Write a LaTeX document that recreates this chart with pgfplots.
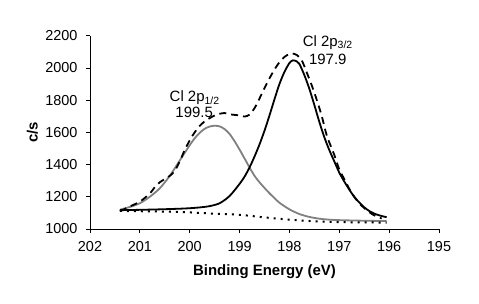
\documentclass[border=0pt]{standalone}
\usepackage{pgfplots}
\pgfplotsset{compat=1.18}
\usepackage{fontspec}
\setmainfont{Liberation Sans}
\definecolor{fitgray}{RGB}{128,128,128}
\begin{document}
\begin{tikzpicture}
\path[use as bounding box] (-90bp,-75bp) rectangle (389bp,229bp);
\begin{axis}[
  at={(0,0)}, anchor=south west,
  scale only axis, width=349bp, height=193.3bp,
  xmin=195, xmax=202, x dir=reverse,
  ymin=1000, ymax=2200,
  xtick={195,196,...,202}, ytick={1000,1200,...,2200},
  axis x line*=bottom, axis y line*=left,
  axis line style={-, black, line width=0.8bp},
  tick align=outside, major tick length=4bp,
  tick style={black, line width=0.8bp},
  /pgf/number format/assume math mode=true,
  /pgf/number format/1000 sep={},
  tick label style={font=\fontsize{14.5}{16}\selectfont},
  yticklabel style={xshift=-5bp},
  xticklabel style={yshift=-5bp},
  xlabel={Binding Energy (eV)}, ylabel={c/s},
  every axis x label/.style={at={(axis description cs:0.5,-0.221)}, anchor=center, font=\fontsize{15}{17}\selectfont\bfseries},
  every axis y label/.style={at={(axis description cs:-0.165,0.5)}, anchor=center, rotate=90, font=\fontsize{15}{17}\selectfont\bfseries},
  clip=false,
]
% Cl 2p1/2 component (gray)
\addplot[fitgray, line width=1.8bp, smooth] coordinates {
(201.40,1120) (201.20,1137) (201.00,1160) (200.80,1200) (200.60,1253)
(200.40,1330) (200.20,1425) (200.00,1520) (199.90,1563) (199.80,1597)
(199.70,1622) (199.60,1636) (199.50,1641) (199.40,1637) (199.30,1620)
(199.20,1590) (199.10,1545) (199.00,1493) (198.90,1438) (198.80,1382)
(198.70,1330) (198.60,1290) (198.50,1255) (198.40,1222) (198.30,1192)
(198.20,1163) (198.00,1122) (197.80,1093) (197.60,1075) (197.40,1064)
(197.20,1058) (197.00,1055) (196.60,1052) (196.05,1049)
};
% Cl 2p3/2 component (black)
\addplot[black, line width=1.8bp, smooth] coordinates {
(201.40,1117) (201.00,1119) (200.60,1122) (200.20,1126) (200.00,1129)
(199.80,1134) (199.60,1142) (199.40,1160) (199.20,1205) (199.00,1280)
(198.90,1325) (198.80,1382) (198.70,1450) (198.60,1525) (198.50,1610)
(198.40,1705) (198.30,1805) (198.20,1900) (198.10,1975) (198.00,2030)
(197.93,2047) (197.85,2040) (197.80,2025) (197.70,1955) (197.60,1870)
(197.50,1770) (197.40,1665) (197.30,1570) (197.20,1490) (197.10,1420)
(197.00,1350) (196.90,1295) (196.80,1245) (196.70,1200) (196.60,1165)
(196.50,1135) (196.40,1112) (196.30,1096) (196.20,1085) (196.05,1073)
};
% background (dotted)
\addplot[black, line width=2bp, dash pattern=on 2bp off 5bp, smooth] coordinates {
(201.40,1112) (200.50,1108) (200.00,1103) (199.50,1095) (199.00,1088)
(198.50,1072) (198.00,1058) (197.50,1048) (197.00,1043) (196.50,1041) (196.05,1040)
};
% envelope (dashed)
\addplot[black, line width=1.8bp, dash pattern=on 7bp off 5bp, smooth] coordinates {
(201.40,1110) (201.20,1140) (201.00,1170) (200.80,1220) (200.70,1260)
(200.60,1290) (200.50,1310) (200.40,1330) (200.30,1360) (200.20,1420)
(200.10,1490) (200.00,1550) (199.90,1600) (199.80,1640) (199.70,1668)
(199.60,1688) (199.50,1705) (199.40,1715) (199.30,1720) (199.20,1712)
(199.00,1705) (198.90,1698) (198.80,1710) (198.70,1750) (198.60,1810)
(198.50,1875) (198.40,1935) (198.30,1990) (198.20,2035) (198.10,2068)
(198.00,2087) (197.95,2090) (197.85,2080) (197.75,2045) (197.65,1970)
(197.55,1890) (197.45,1800) (197.35,1700) (197.25,1580) (197.10,1460)
(197.00,1370) (196.90,1310) (196.80,1250) (196.70,1200) (196.60,1160)
(196.50,1130) (196.40,1105) (196.30,1085) (196.15,1065)
};
\node[anchor=base, inner sep=0pt, font=\fontsize{15}{17}\selectfont] at (axis cs:199.90,1792) {Cl 2p\textsubscript{1/2}};
\node[anchor=base, inner sep=0pt, font=\fontsize{15}{17}\selectfont] at (axis cs:199.91,1695) {199.5};
\node[anchor=base, inner sep=0pt, font=\fontsize{15}{17}\selectfont] at (axis cs:197.23,2134) {Cl 2p\textsubscript{3/2}};
\node[anchor=base, inner sep=0pt, font=\fontsize{15}{17}\selectfont] at (axis cs:197.23,2024) {197.9};
\end{axis}
\end{tikzpicture}
\end{document}
